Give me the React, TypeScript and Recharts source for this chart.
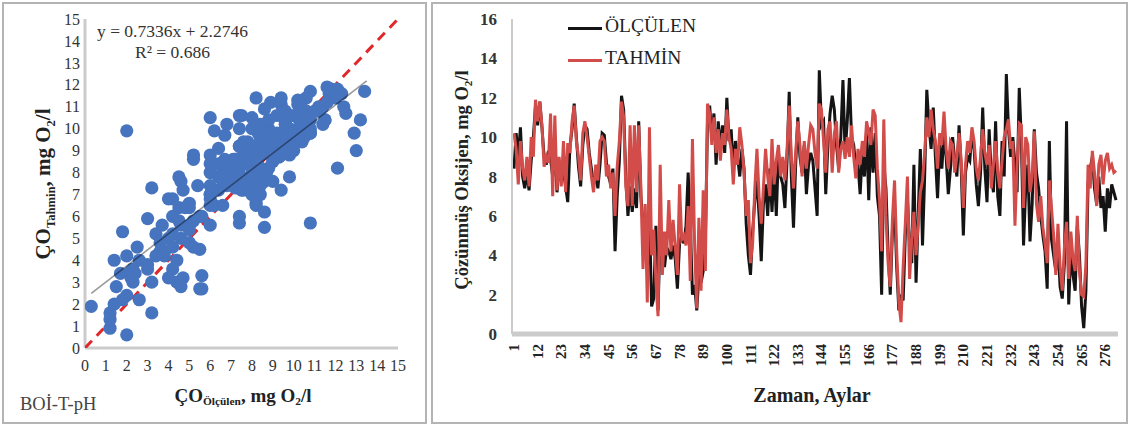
import React from "react";
import { ScatterChart, Scatter, LineChart, Line, XAxis, YAxis } from "recharts";

// ÇO values per month (measured / model)
const olculen = [
  8.4, 10.2, 9.0, 10.5, 8.0, 7.4, 8.2, 7.3, 8.8, 10.0,
  11.6, 10.6, 11.8, 10.5, 9.0, 8.6, 9.3, 8.9, 8.0, 9.4,
  7.2, 8.5, 7.8, 8.3, 7.5, 6.7, 9.5, 10.4, 11.7, 10.0,
  8.5, 7.5, 9.6, 10.6, 10.4, 9.2, 8.4, 7.6, 8.1, 7.4,
  8.6, 10.2, 10.1, 8.7, 8.0, 7.6, 8.4, 4.2, 7.0, 8.8,
  12.1, 11.4, 8.0, 6.0, 7.5, 6.2, 7.4, 6.4, 10.8, 7.0,
  5.6, 5.0, 3.2, 6.0, 1.4, 1.8, 5.5, 1.2, 5.2, 4.4,
  3.4, 4.4, 4.2, 3.8, 4.5, 3.8, 2.3, 4.6, 5.0, 4.6,
  5.5, 8.2, 5.6, 2.0, 2.5, 1.2, 3.0, 2.6, 3.2, 4.7,
  10.8, 11.6, 10.0, 11.2, 8.6, 10.8, 9.4, 10.6, 9.2, 12.0,
  9.8, 10.4, 8.4, 9.8, 9.0, 8.0, 9.4, 8.4, 5.6, 4.0,
  3.0, 5.2, 6.8, 7.8, 6.0, 3.7, 6.6, 7.6, 6.0, 8.4,
  6.2, 8.6, 6.0, 9.2, 8.0, 7.6, 6.4, 8.8, 12.3, 8.0,
  5.4, 8.6, 11.0, 9.0, 8.2, 9.6, 7.1, 8.6, 9.2, 8.8,
  7.4, 6.0, 13.4, 10.6, 10.8, 7.1, 9.6, 11.2, 12.1, 11.4,
  9.6, 8.4, 10.0, 12.9, 9.2, 10.8, 13.0, 10.0, 9.6, 8.4,
  8.6, 7.1, 9.2, 8.0, 10.4, 6.8, 10.5, 8.2, 10.2, 7.0,
  6.0, 2.0, 8.6, 7.4, 4.2, 2.0, 5.2, 6.6, 3.4, 1.2,
  2.0, 1.7, 5.0, 6.8, 4.6, 3.6, 8.6, 2.6, 6.0, 9.4,
  4.5, 8.0, 12.4, 10.6, 9.4, 11.5, 9.0, 6.9, 9.6, 8.4,
  10.2, 9.0, 7.1, 8.4, 10.0, 8.8, 8.0, 10.6, 8.4, 5.0,
  8.2, 9.0, 8.8, 10.2, 9.4, 7.6, 6.5, 8.2, 11.5, 8.4,
  6.7, 10.4, 8.0, 7.2, 10.8, 7.0, 6.0, 9.8, 8.0, 13.2,
  10.4, 9.0, 10.0, 8.6, 7.2, 12.5, 9.8, 4.5, 7.4, 8.6,
  4.7, 6.6, 10.4, 8.2, 7.4, 6.0, 5.0, 4.2, 2.3, 9.8,
  4.8, 4.0, 3.2, 4.6, 2.4, 1.8, 3.6, 10.8, 1.5, 4.2,
  3.0, 2.2, 5.5, 4.0, 1.4, 0.3, 2.2, 7.6, 8.4, 9.0,
  7.4, 6.6, 8.0, 6.4, 7.0, 5.2, 7.4, 6.4, 7.6, 7.2, 6.8,
];

const tahmin = [
  10.2, 9.4, 7.6, 9.8, 8.4, 7.8, 9.0, 7.5, 10.0, 9.0,
  11.9, 10.8, 11.8, 10.6, 8.5, 9.0, 8.7, 11.2, 7.0, 11.1,
  7.3, 9.0, 7.5, 9.8, 7.2, 9.7, 9.2, 10.8, 11.6, 9.8,
  9.0, 7.8, 10.2, 10.8, 10.0, 9.0, 8.0, 7.2, 8.6, 7.8,
  9.8, 10.0, 9.8, 8.0, 8.6, 7.4, 8.2, 6.0, 8.5, 9.8,
  11.8, 11.0, 7.5, 6.5, 10.6, 6.5, 10.6, 7.2, 10.6, 7.5,
  3.3, 6.6, 1.6, 10.5, 4.0, 5.3, 2.7, 0.9, 8.6, 3.0,
  5.2, 4.0, 6.8, 4.2, 5.8, 4.4, 3.0, 7.6, 4.8, 5.0,
  4.5, 6.5, 2.7, 9.9, 4.6, 1.3, 5.9, 2.2, 7.3, 3.2,
  11.7, 11.2, 9.6, 11.0, 9.2, 10.4, 8.8, 10.2, 9.6, 11.4,
  10.0, 9.4, 7.6, 9.4, 8.6, 10.5, 9.6, 8.2, 6.0, 6.8,
  3.6, 4.6, 7.4, 9.4, 7.0, 5.6, 7.4, 9.4, 8.0, 7.0,
  9.9, 7.6, 8.8, 9.6, 8.0, 9.0, 7.8, 9.4, 11.6, 9.0,
  7.4, 9.2, 10.8, 9.6, 8.0, 9.8, 8.4, 9.6, 10.6, 10.4,
  9.2, 8.4, 11.7, 11.4, 9.8, 8.2, 10.4, 10.8, 8.2, 10.2,
  10.8, 8.2, 9.4, 9.8, 8.9, 10.0, 9.0, 10.6, 9.0, 7.9,
  9.4, 8.6, 9.8, 9.0, 10.8, 10.2, 9.6, 11.4, 11.1, 8.4,
  6.8, 4.2, 10.9, 6.0, 3.6, 2.4, 5.8, 7.8, 4.2, 1.6,
  0.6, 3.4, 5.6, 8.0, 2.8, 4.8, 6.2, 4.0, 5.6, 7.2,
  7.8, 9.2, 11.0, 10.0, 11.4, 10.4, 9.8, 8.4, 10.2, 9.6,
  11.3, 9.4, 8.4, 9.8, 9.6, 8.2, 9.0, 10.2, 8.8, 6.4,
  8.6, 9.8, 9.2, 10.5, 9.8, 8.4, 7.8, 9.0, 10.4, 9.2,
  8.6, 9.6, 7.4, 8.6, 9.8, 8.2, 7.4, 8.8, 10.0, 10.4,
  10.9, 9.4, 9.8, 5.5, 8.6, 10.7, 10.6, 6.4, 10.0, 9.6,
  7.2, 8.0, 10.3, 6.6, 5.7, 7.0, 5.4, 4.6, 3.6, 7.8,
  6.4, 5.0, 3.0, 5.6, 3.4, 2.2, 4.4, 5.7, 2.8, 5.2,
  3.8, 3.2, 6.0, 3.2, 2.0, 1.9, 3.5, 8.6, 7.4, 9.3,
  8.2, 6.5, 8.6, 9.1, 7.6, 8.8, 9.2, 8.4, 8.6, 8.2, 8.3,
];

const months = olculen.map((_, i) => i + 1);
const scatterTicks = [0, 1, 2, 3, 4, 5, 6, 7, 8, 9, 10, 11, 12, 13, 14, 15];
const doTicks = [0, 2, 4, 6, 8, 10, 12, 14, 16];

// trendline printed on the chart
const fitSlope = 0.7336;
const fitIntercept = 2.2746;
const fitFrom = 0.3;
const fitTo = 13.5;

const lineData = months.map((m, i) => ({ month: m, olculen: olculen[i], tahmin: tahmin[i] }));
const scatterData = olculen.map((x, i) => ({ x, y: tahmin[i] }));
const diagData = [
  { x: 0, y: 0 },
  { x: 15, y: 15 },
];
const fitData = [fitFrom, fitTo].map((x) => ({ x, y: fitSlope * x + fitIntercept }));

const serif = "'Liberation Serif', 'Times New Roman', serif";
const axisGray = "#cbcbcb";
const blue = "#4774be";
const red = "#d24c49";

const Dot = (p: any) => <circle cx={p.cx} cy={p.cy} r={6.6} fill={blue} />;
const NoDot = () => <g />;

const MonthTick = ({ x, y, payload }: any) => (
  <text
    x={x}
    y={y}
    transform={`rotate(-90, ${x}, ${y})`}
    textAnchor="end"
    dominantBaseline="central"
    fontFamily={serif}
    fontWeight="bold"
    fontSize={15}
    fill="#222"
  >
    {payload.value}
  </text>
);

const abs = (left: number, top: number, extra: React.CSSProperties = {}): React.CSSProperties => ({
  position: "absolute",
  left,
  top,
  fontFamily: serif,
  whiteSpace: "nowrap",
  ...extra,
});

const sub: React.CSSProperties = { fontSize: "0.6em", verticalAlign: "-0.35em" };

export default function App() {
  return (
    <div style={{ position: "absolute", left: 0, top: 0, width: 1130, height: 428, background: "#fff", overflow: "hidden" }}>
      <div style={{ position: "absolute", left: 2, top: 2, width: 425, height: 422, border: "2px solid #b4b4b4", boxSizing: "border-box" }} />
      <div style={{ position: "absolute", left: 431, top: 2, width: 697, height: 422, border: "2px solid #b4b4b4", boxSizing: "border-box" }} />

      {/* left: scatter */}
      <div style={{ position: "absolute", left: 0, top: 0 }}>
        <ScatterChart width={428} height={428} margin={{ top: 19, right: 30, left: 45, bottom: 50 }}>
          <XAxis
            type="number"
            dataKey="x"
            domain={[0, 15]}
            ticks={scatterTicks}
            interval={0}
            height={30}
            allowDataOverflow
            axisLine={{ stroke: axisGray, strokeWidth: 3 }}
            tickLine={false}
            tickSize={6}
            tickMargin={6}
            tick={{ fontFamily: serif, fontSize: 16, fill: "#333" }}
          />
          <YAxis
            type="number"
            dataKey="y"
            domain={[0, 15]}
            ticks={scatterTicks}
            interval={0}
            width={40}
            allowDataOverflow
            axisLine={{ stroke: axisGray, strokeWidth: 3 }}
            tickLine={false}
            tickSize={5}
            tickMargin={0}
            tick={{ fontFamily: serif, fontSize: 16, fill: "#333" }}
          />
          <Scatter
            data={diagData}
            line={{ stroke: "#e0282a", strokeWidth: 3, strokeDasharray: "10 7" }}
            shape={NoDot}
            isAnimationActive={false}
          />
          <Scatter data={scatterData} shape={Dot} isAnimationActive={false} />
          {/* translucent black: grey on white, dark blue over the dots */}
          <Scatter
            data={fitData}
            line={{ stroke: "#000", strokeOpacity: 0.4, strokeWidth: 1.6 }}
            shape={NoDot}
            isAnimationActive={false}
          />
        </ScatterChart>
      </div>
      <div style={abs(97, 21, { fontSize: 17.5, color: "#333" })}>y = 0.7336x + 2.2746</div>
      <div style={abs(135, 42, { fontSize: 17.5, color: "#333" })}>R² = 0.686</div>
      <div style={abs(45, 184, { fontSize: 21, fontWeight: "bold", color: "#222", transform: "translate(-50%, -50%) rotate(-90deg)" })}>
        ÇO<span style={sub}>Tahmin</span>, mg O<span style={sub}>2</span>/l
      </div>
      <div style={abs(243, 396, { fontSize: 19, fontWeight: "bold", color: "#222", transform: "translate(-50%, -50%)" })}>
        ÇO<span style={sub}>Ölçülen</span>, mg O<span style={sub}>2</span>/l
      </div>
      <div style={abs(20, 394, { fontSize: 18.5, color: "#444" })}>BOİ-T-pH</div>

      {/* right: time series */}
      <div style={{ position: "absolute", left: 430, top: 0 }}>
        <LineChart width={700} height={428} data={lineData} margin={{ top: 19, right: 12, left: 22, bottom: 44 }}>
          <XAxis
            dataKey="month"
            interval={10}
            height={50}
            padding={{ left: 2, right: 2 }}
            axisLine={{ stroke: axisGray, strokeWidth: 5 }}
            tickLine={false}
            tickSize={6}
            tickMargin={4}
            tick={<MonthTick />}
          />
          <YAxis
            domain={[0, 16]}
            ticks={doTicks}
            interval={0}
            width={60}
            axisLine={{ stroke: axisGray, strokeWidth: 2 }}
            tickLine={false}
            tickSize={6}
            tickMargin={9}
            tick={{ fontFamily: serif, fontSize: 17, fontWeight: "bold", fill: "#333" }}
          />
          <Line type="linear" dataKey="olculen" stroke="#141414" strokeWidth={3} dot={false} isAnimationActive={false} />
          <Line type="linear" dataKey="tahmin" stroke={red} strokeWidth={3} dot={false} isAnimationActive={false} />
        </LineChart>
      </div>
      <div style={abs(568, 27, { width: 34, height: 3, background: "#141414" })} />
      <div style={abs(605, 15, { fontSize: 19.5, color: "#222" })}>ÖLÇÜLEN</div>
      <div style={abs(568, 59, { width: 34, height: 3, background: red })} />
      <div style={abs(605, 47, { fontSize: 19.5, color: "#222" })}>TAHMİN</div>
      <div style={abs(463, 180, { fontSize: 18.5, fontWeight: "bold", color: "#222", transform: "translate(-50%, -50%) rotate(-90deg)" })}>
        Çözünmüş Oksijen, mg O<span style={sub}>2</span>/l
      </div>
      <div style={abs(812, 395, { fontSize: 20, fontWeight: "bold", color: "#222", transform: "translate(-50%, -50%)" })}>
        Zaman, Aylar
      </div>
    </div>
  );
}
